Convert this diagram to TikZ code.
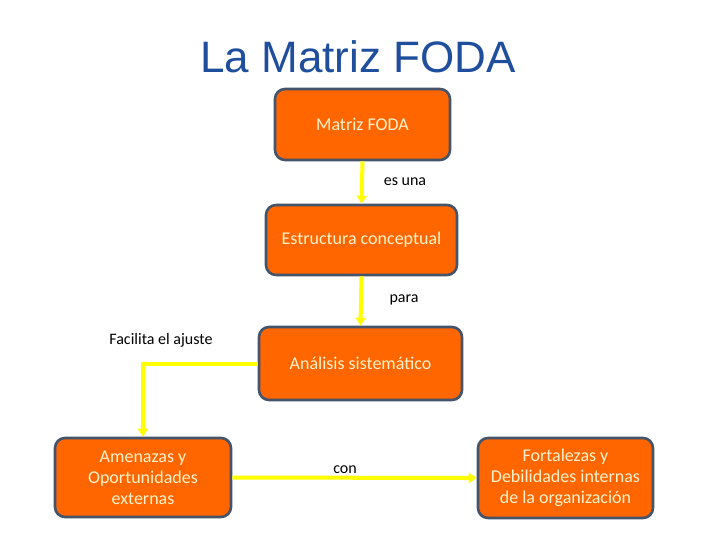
\documentclass[tikz,border=0pt]{standalone}
\usepackage{fontspec}
\setmainfont{Carlito}
\newfontfamily\titlefont{Liberation Sans}
\usetikzlibrary{arrows.meta}
\definecolor{boxfill}{HTML}{FF6600}
\definecolor{boxline}{HTML}{44546A}
\definecolor{boxtext}{HTML}{FFF2CC}
\definecolor{titleblue}{HTML}{1F4E9C}
\definecolor{arrowyellow}{HTML}{FFFF00}
\tikzset{
  conceptbox/.style={draw=boxline, line width=2.6pt, fill=boxfill, rounded corners=10pt,
    text=boxtext, font=\fontsize{18}{21}\selectfont, align=center, inner sep=0pt},
  linkarrow/.style={draw=arrowyellow, line width=4pt, -{Triangle[length=8pt,width=10pt]}},
  linklabel/.style={font=\fontsize{16}{18}\selectfont, text=black}
}
\begin{document}
\begin{tikzpicture}[x=1pt,y=-1pt]
\useasboundingbox (0,0) rectangle (720,540);
\node[font=\titlefont\fontsize{44}{50}\selectfont, text=titleblue] (title) at (358,57) {La Matriz FODA};
\node[conceptbox, minimum width=175pt, minimum height=71pt] (b1) at (362.5,124.5) {Matriz FODA};
\node[conceptbox, minimum width=191pt, minimum height=70pt] (b2) at (361.5,240) {Estructura conceptual};
\node[conceptbox, minimum width=203pt, minimum height=73pt] (b3) at (360.5,363.5) {Análisis sistemático};
\node[conceptbox, minimum width=176pt, minimum height=79pt] (b4) at (143,477.5) {Amenazas y\\Oportunidades\\externas};
\node[conceptbox, minimum width=175pt, minimum height=80pt] (b5) at (565.5,478) {Fortalezas y\\Debilidades internas\\de la organización};
\draw[linkarrow] (b1.south) -- (b2.north);
\draw[linkarrow] (b2.south) -- (b3.north);
\draw[linkarrow] (b3.west) -| (b4.north);
\draw[linkarrow] (b4.east) -- (b5.west);
\node[linklabel] (l1) at (405,182) {es una};
\node[linklabel] (l2) at (404,300) {para};
\node[linklabel] (l3) at (161,340) {Facilita el ajuste};
\node[linklabel] (l4) at (345,470) {con};
\end{tikzpicture}
\end{document}
